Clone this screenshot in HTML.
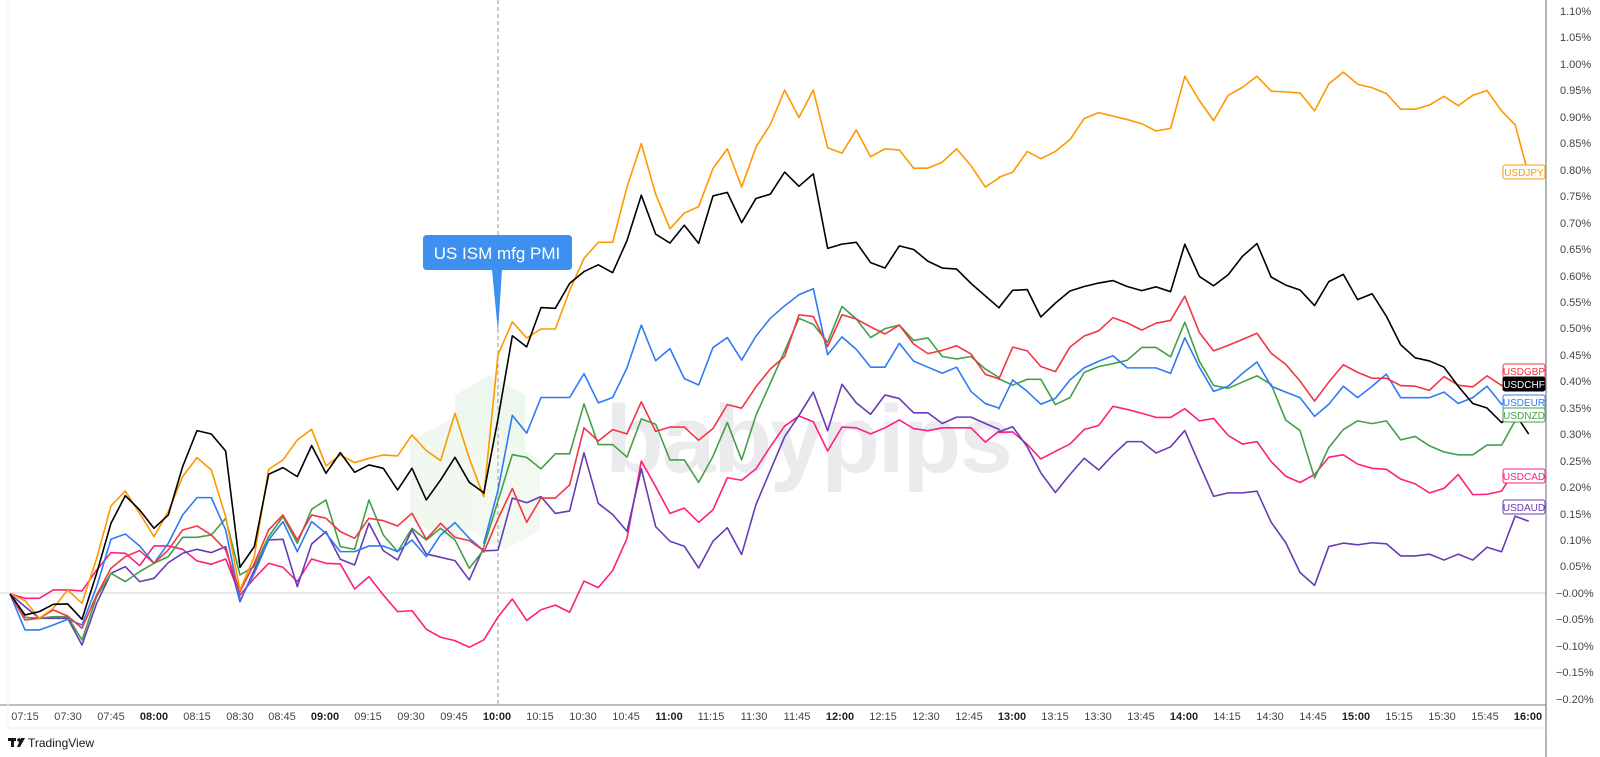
<!DOCTYPE html>
<html><head><meta charset="utf-8"><style>
html,body{margin:0;padding:0;background:#fff;}
svg{display:block;font-family:"Liberation Sans",sans-serif;}
</style></head><body>
<svg width="1600" height="757" viewBox="0 0 1600 757" xmlns="http://www.w3.org/2000/svg">
<rect width="1600" height="757" fill="#fff"/>
<defs><clipPath id="pc"><rect x="0" y="0" width="1546" height="705"/></clipPath></defs>
<g opacity="0.5">
<polygon points="455,395 490,375 525,395 525,470 490,490 455,470" fill="#dff0dc"/>
<polygon points="410,440 450,420 490,440 490,520 450,540 410,520" fill="#e3f3e0"/>
<polygon points="470,460 505,440 540,460 540,530 505,550 470,530" fill="#e6f4e3"/>
</g>
<text x="808" y="472" font-size="96" font-weight="bold" fill="#ebebee" text-anchor="middle" letter-spacing="-2">babypips</text>
<line x1="0" y1="593" x2="1546" y2="593" stroke="#cfd0d4" stroke-width="1"/>
<line x1="498" y1="0" x2="498" y2="705" stroke="#9a9a9a" stroke-width="1" stroke-dasharray="4,3"/>
<g clip-path="url(#pc)" fill="none" stroke-width="1.6" stroke-linejoin="round">
<g transform="matrix(0.3333 0 0 0.3333 0 130)">
<polyline vector-effect="non-scaling-stroke" stroke="#ff1f7f" points="30,1392 75,1405 118,1405 160,1380 203,1380 246,1383 290,1320 333,1268 376,1270 419,1307 462,1248 505,1248 548,1258 591,1293 634,1303 677,1287 720,1395 763,1345 806,1300 849,1312 892,1355 935,1287 978,1300 1021,1302 1064,1377 1107,1340 1150,1395 1193,1445 1236,1442 1279,1498 1322,1522 1365,1532 1408,1552 1451,1530"/>
<polyline vector-effect="non-scaling-stroke" stroke="#673ab7" points="30,1392 75,1430 118,1465 160,1465 203,1465 246,1545 290,1420 333,1330 376,1310 419,1355 462,1345 505,1298 548,1270 591,1258 634,1268 677,1250 720,1415 763,1320 806,1230 849,1228 892,1370 935,1242 978,1205 1021,1288 1064,1305 1107,1180 1150,1262 1193,1290 1236,1200 1279,1272 1322,1282 1365,1292 1408,1350 1451,1253"/>
<polyline vector-effect="non-scaling-stroke" stroke="#43a047" points="30,1392 75,1462 118,1465 160,1460 203,1460 246,1530 290,1400 333,1330 376,1355 419,1325 462,1300 505,1280 548,1222 591,1222 634,1215 677,1165 720,1335 763,1310 806,1220 849,1160 892,1240 935,1138 978,1110 1021,1250 1064,1258 1107,1110 1150,1215 1193,1265 1236,1195 1279,1230 1322,1195 1365,1230 1408,1315 1451,1260"/>
<polyline vector-effect="non-scaling-stroke" stroke="#2f7bf5" points="30,1392 75,1500 118,1500 160,1485 203,1468 246,1485 290,1370 333,1228 376,1212 419,1248 462,1300 505,1240 548,1155 591,1103 634,1103 677,1200 720,1410 763,1330 806,1230 849,1175 892,1265 935,1175 978,1210 1021,1265 1064,1265 1107,1248 1150,1248 1193,1265 1236,1230 1279,1280 1322,1215 1365,1178 1408,1225 1451,1262"/>
<polyline vector-effect="non-scaling-stroke" stroke="#f23645" points="30,1392 75,1470 118,1465 160,1440 203,1458 246,1495 290,1395 333,1315 376,1280 419,1262 462,1300 505,1260 548,1200 591,1188 634,1215 677,1260 720,1385 763,1300 806,1200 849,1155 892,1230 935,1155 978,1165 1021,1205 1064,1225 1107,1165 1150,1172 1193,1188 1236,1150 1279,1228 1322,1180 1365,1222 1408,1232 1451,1262"/>
<polyline vector-effect="non-scaling-stroke" stroke="#ff9800" points="30,1392 75,1412 118,1465 160,1435 203,1380 246,1420 290,1285 333,1128 376,1083 419,1150 462,1220 505,1145 548,1040 591,983 634,1020 677,1160 720,1380 763,1280 806,1018 849,990 892,930 935,898 978,1008 1021,975 1064,998 1107,985 1150,975 1193,978 1236,915 1279,962 1322,992 1365,850 1408,985 1451,1100"/>
<polyline vector-effect="non-scaling-stroke" stroke="#000" points="30,1392 75,1455 118,1445 160,1423 203,1422 246,1468 290,1330 333,1180 376,1097 419,1140 462,1195 505,1155 548,1010 591,902 634,912 677,963 720,1312 763,1250 806,1033 849,1013 892,1040 935,947 978,1030 1021,968 1064,1027 1107,1005 1150,1015 1193,1080 1236,1015 1279,1110 1322,1050 1365,982 1408,1057 1451,1088"/>
</g>
<g transform="matrix(0.3333 0 0 0.3567 480 62.2)">
<polyline vector-effect="non-scaling-stroke" stroke="#ff1f7f" points="11,1620 54,1555 97,1505 140,1565 183,1535 226,1522 269,1542 312,1455 355,1473 398,1425 441,1335 484,1118 527,1190 570,1265 613,1250 656,1290 699,1255 742,1165 785,1172 828,1140 871,1078 914,1020 957,992 1000,1008 1043,1090 1086,1023 1129,1025 1172,1042 1215,1025 1258,1003 1301,1027 1344,1033 1387,1025 1430,1025 1473,1025 1516,1065 1559,1033"/>
<polyline vector-effect="non-scaling-stroke" stroke="#673ab7" points="11,1370 54,1368 97,1222 140,1235 183,1218 226,1265 269,1258 312,1095 355,1237 398,1268 441,1315 484,1140 527,1302 570,1343 613,1357 656,1418 699,1343 742,1305 785,1380 828,1240 871,1145 914,1050 957,990 1000,925 1043,1033 1086,903 1129,955 1172,987 1215,933 1258,943 1301,983 1344,983 1387,1013 1430,995 1473,995 1516,1013 1559,1030"/>
<polyline vector-effect="non-scaling-stroke" stroke="#43a047" points="11,1360 54,1230 97,1100 140,1108 183,1140 226,1098 269,1098 312,958 355,1072 398,1072 441,1107 484,1000 527,1015 570,1115 613,1115 656,1178 699,1105 742,1010 785,1115 828,990 871,900 914,810 957,718 1000,735 1043,785 1086,685 1129,720 1172,772 1215,747 1258,737 1301,780 1344,773 1387,825 1430,832 1473,825 1516,860 1559,885"/>
<polyline vector-effect="non-scaling-stroke" stroke="#2f7bf5" points="11,1350 54,1200 97,990 140,1040 183,940 226,940 269,940 312,873 355,955 398,940 441,857 484,737 527,837 570,803 613,887 656,905 699,800 742,772 785,835 828,768 871,718 914,683 957,652 1000,635 1043,820 1086,770 1129,805 1172,855 1215,855 1258,788 1301,838 1344,855 1387,872 1430,855 1473,923 1516,957 1559,970"/>
<polyline vector-effect="non-scaling-stroke" stroke="#f23645" points="11,1375 54,1280 97,1195 140,1290 183,1222 226,1222 269,1185 312,1025 355,1062 398,1030 441,1042 484,952 527,1035 570,1023 613,1023 656,1060 699,1027 742,960 785,970 828,910 871,860 914,825 957,708 1000,713 1043,797 1086,708 1129,720 1172,742 1215,762 1258,737 1301,790 1344,817 1387,808 1430,795 1473,818 1516,875 1559,888"/>
<polyline vector-effect="non-scaling-stroke" stroke="#ff9800" points="11,1220 54,820 97,728 140,773 183,748 226,748 269,640 312,550 355,505 398,505 441,350 484,228 527,370 570,467 613,423 656,405 699,298 742,243 785,350 828,238 871,175 914,78 957,155 1000,78 1043,240 1086,255 1129,190 1172,265 1215,243 1258,246 1301,297 1344,297 1387,280 1430,243 1473,290 1516,350 1559,323"/>
<polyline vector-effect="non-scaling-stroke" stroke="#000" points="11,1210 54,1000 97,767 140,798 183,688 226,690 269,620 312,587 355,568 398,590 441,500 484,373 527,482 570,507 613,457 656,508 699,375 742,365 785,450 828,382 871,370 914,308 957,348 1000,313 1043,522 1086,510 1129,505 1172,562 1215,577 1258,515 1301,525 1344,558 1387,577 1430,580 1473,620 1516,655 1559,690"/>
</g>
<g transform="matrix(0.3388 0 0 0.3463 990 60.7)">
<polyline vector-effect="non-scaling-stroke" stroke="#ff1f7f" points="25,1073 67,1072 110,1108 150,1150 193,1128 236,1107 278,1065 321,1053 363,998 405,1007 448,1018 490,1030 533,1030 575,1005 618,1040 660,1033 703,1082 745,1107 788,1100 830,1158 873,1200 915,1218 958,1195 1000,1145 1043,1138 1085,1165 1128,1177 1170,1180 1212,1208 1255,1222 1297,1248 1340,1235 1382,1195 1425,1253 1467,1252 1510,1243 1550,1180 1590,1190"/>
<polyline vector-effect="non-scaling-stroke" stroke="#673ab7" points="25,1072 67,1057 110,1115 150,1190 193,1247 236,1195 278,1148 321,1182 363,1138 405,1100 448,1100 490,1133 533,1115 575,1068 618,1165 660,1258 703,1248 745,1248 788,1243 830,1333 873,1392 915,1478 958,1515 1000,1403 1043,1393 1085,1398 1128,1392 1170,1395 1212,1430 1255,1430 1297,1425 1340,1442 1382,1425 1425,1442 1467,1405 1510,1418 1550,1315 1590,1330"/>
<polyline vector-effect="non-scaling-stroke" stroke="#43a047" points="25,918 67,937 110,920 150,920 193,993 236,973 278,900 321,883 363,875 405,865 448,828 490,828 533,855 575,755 618,868 660,938 703,946 745,928 788,910 830,935 873,1038 915,1068 958,1205 1000,1117 1043,1065 1085,1040 1128,1048 1170,1040 1212,1095 1255,1085 1297,1112 1340,1130 1382,1138 1425,1138 1467,1110 1510,1110 1550,1040 1590,1040"/>
<polyline vector-effect="non-scaling-stroke" stroke="#2f7bf5" points="25,1007 67,922 110,955 150,992 193,975 236,922 278,887 321,868 363,852 405,887 448,887 490,887 533,903 575,800 618,885 660,955 703,940 745,903 788,870 830,940 873,957 915,973 958,1027 1000,992 1043,940 1085,973 1128,940 1170,905 1212,973 1255,973 1297,973 1340,957 1382,990 1425,973 1467,940 1510,992 1550,985 1590,990"/>
<polyline vector-effect="non-scaling-stroke" stroke="#f23645" points="25,922 67,827 110,838 150,883 193,898 236,827 278,795 321,780 363,742 405,757 448,778 490,758 533,750 575,680 618,785 660,838 703,822 745,805 788,787 830,845 873,877 915,925 958,983 1000,928 1043,878 1085,900 1128,917 1170,917 1212,938 1255,940 1297,952 1340,912 1382,937 1425,942 1467,910 1510,938 1550,920 1590,925"/>
<polyline vector-effect="non-scaling-stroke" stroke="#ff9800" points="25,337 67,322 110,262 150,283 193,262 236,228 278,167 321,150 363,160 405,170 448,182 490,203 533,195 575,45 618,115 660,173 703,100 745,77 788,45 830,88 873,90 915,93 958,145 1000,67 1043,33 1085,68 1128,78 1170,95 1212,140 1255,140 1297,128 1340,103 1382,130 1425,100 1467,86 1510,145 1550,185 1590,330"/>
<polyline vector-effect="non-scaling-stroke" stroke="#000" points="25,715 67,663 110,661 150,740 193,700 236,665 278,652 321,642 363,635 405,652 448,664 490,653 533,667 575,530 618,623 660,650 703,618 745,565 788,528 830,625 873,648 915,662 958,707 1000,638 1043,617 1085,690 1128,673 1170,738 1212,820 1255,858 1297,867 1340,885 1382,940 1425,990 1467,1003 1510,1045 1550,1020 1590,1078"/>
</g>
</g>
<path d="M427,235 H568 Q572,235 572,239 V266 Q572,270 568,270 H502 L498,332 L492,270 H427 Q423,270 423,266 V239 Q423,235 427,235 Z" fill="#3d8ff0"/>
<text x="497" y="259" font-size="17" fill="#fff" text-anchor="middle">US ISM mfg PMI</text>
<line x1="1546" y1="0" x2="1546" y2="757" stroke="#9a9ca2" stroke-width="1.5"/>
<line x1="0" y1="705" x2="1546" y2="705" stroke="#7a7c82" stroke-width="1"/>
<line x1="8" y1="728" x2="1546" y2="728" stroke="#eeeeee" stroke-width="1"/>
<line x1="8" y1="0" x2="8" y2="728" stroke="#f2f2f2" stroke-width="1"/>
<g font-size="11" fill="#444">
<text x="1560" y="15">1.10%</text><text x="1560" y="41">1.05%</text><text x="1560" y="68">1.00%</text>
<text x="1560" y="94">0.95%</text><text x="1560" y="121">0.90%</text><text x="1560" y="147">0.85%</text>
<text x="1560" y="174">0.80%</text><text x="1560" y="200">0.75%</text><text x="1560" y="227">0.70%</text>
<text x="1560" y="253">0.65%</text><text x="1560" y="280">0.60%</text><text x="1560" y="306">0.55%</text>
<text x="1560" y="332">0.50%</text><text x="1560" y="359">0.45%</text><text x="1560" y="385">0.40%</text>
<text x="1560" y="412">0.35%</text><text x="1560" y="438">0.30%</text><text x="1560" y="465">0.25%</text>
<text x="1560" y="491">0.20%</text><text x="1560" y="518">0.15%</text><text x="1560" y="544">0.10%</text>
<text x="1560" y="570">0.05%</text><text x="1556" y="597">−0.00%</text><text x="1556" y="623">−0.05%</text>
<text x="1556" y="650">−0.10%</text><text x="1556" y="676">−0.15%</text><text x="1556" y="703">−0.20%</text>
</g>
<g font-size="11" fill="#444" text-anchor="middle">
<text x="25" y="720">07:15</text><text x="68" y="720">07:30</text><text x="111" y="720">07:45</text>
<text x="154" y="720" font-weight="bold" fill="#222">08:00</text><text x="197" y="720">08:15</text><text x="240" y="720">08:30</text>
<text x="282" y="720">08:45</text><text x="325" y="720" font-weight="bold" fill="#222">09:00</text><text x="368" y="720">09:15</text>
<text x="411" y="720">09:30</text><text x="454" y="720">09:45</text><text x="497" y="720" font-weight="bold" fill="#222">10:00</text>
<text x="540" y="720">10:15</text><text x="583" y="720">10:30</text><text x="626" y="720">10:45</text>
<text x="669" y="720" font-weight="bold" fill="#222">11:00</text><text x="711" y="720">11:15</text><text x="754" y="720">11:30</text>
<text x="797" y="720">11:45</text><text x="840" y="720" font-weight="bold" fill="#222">12:00</text><text x="883" y="720">12:15</text>
<text x="926" y="720">12:30</text><text x="969" y="720">12:45</text><text x="1012" y="720" font-weight="bold" fill="#222">13:00</text>
<text x="1055" y="720">13:15</text><text x="1098" y="720">13:30</text><text x="1141" y="720">13:45</text>
<text x="1184" y="720" font-weight="bold" fill="#222">14:00</text><text x="1227" y="720">14:15</text><text x="1270" y="720">14:30</text>
<text x="1313" y="720">14:45</text><text x="1356" y="720" font-weight="bold" fill="#222">15:00</text><text x="1399" y="720">15:15</text>
<text x="1442" y="720">15:30</text><text x="1485" y="720">15:45</text><text x="1528" y="720" font-weight="bold" fill="#222">16:00</text>
</g>
<g font-size="10" text-anchor="middle">
<rect x="1503" y="165" width="42" height="14" rx="2" fill="#fff" stroke="#ff9800"/><text x="1524" y="176" fill="#ff9800">USDJPY</text>
<rect x="1503" y="364" width="42" height="14" rx="2" fill="#fff" stroke="#f23645"/><text x="1524" y="375" fill="#f23645">USDGBP</text>
<rect x="1503" y="377" width="42" height="14" rx="2" fill="#000" stroke="#000"/><text x="1524" y="388" fill="#fff">USDCHF</text>
<rect x="1503" y="395" width="42" height="14" rx="2" fill="#fff" stroke="#2f7bf5"/><text x="1524" y="406" fill="#2f7bf5">USDEUR</text>
<rect x="1503" y="408" width="42" height="14" rx="2" fill="#fff" stroke="#43a047"/><text x="1524" y="419" fill="#43a047">USDNZD</text>
<rect x="1503" y="469" width="42" height="14" rx="2" fill="#fff" stroke="#ff1f7f"/><text x="1524" y="480" fill="#ff1f7f">USDCAD</text>
<rect x="1503" y="500" width="42" height="14" rx="2" fill="#fff" stroke="#673ab7"/><text x="1524" y="511" fill="#673ab7">USDAUD</text>
</g>
<g fill="#131722">
<rect x="8" y="738" width="8" height="3"/><rect x="11" y="738" width="3" height="9"/>
<circle cx="19" cy="740" r="1.8"/><polygon points="21,738 25,738 20,747 17,747"/>
</g>
<text x="28" y="747" font-size="12" fill="#131722">TradingView</text>
</svg>
</body></html>
